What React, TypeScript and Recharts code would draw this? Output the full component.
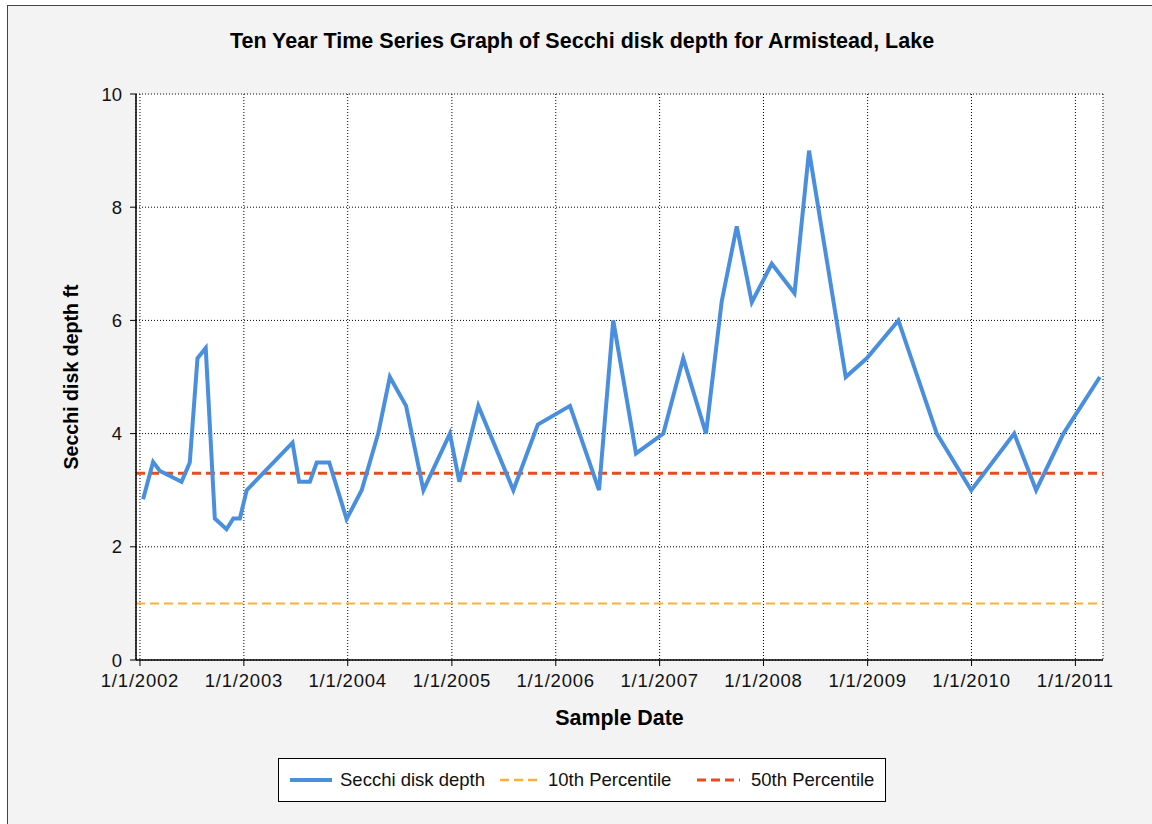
import React from 'react';
import { LineChart, Line, XAxis, YAxis, CartesianGrid, ReferenceLine, ReferenceArea } from 'recharts';

const sampleDates = [
  '2002-01-12', '2002-02-16', '2002-03-12', '2002-05-27', '2002-06-25', '2002-07-22', '2002-08-20',
  '2002-09-21', '2002-11-01', '2002-11-25', '2002-12-18', '2003-01-11', '2003-06-21', '2003-07-14',
  '2003-08-21', '2003-09-14', '2003-10-28', '2003-12-28', '2004-02-19', '2004-04-17', '2004-05-28',
  '2004-07-24', '2004-09-23', '2004-12-25', '2005-01-27', '2005-04-04', '2005-08-05', '2005-10-30',
  '2006-02-20', '2006-06-02', '2006-07-22', '2006-10-10', '2007-01-14', '2007-03-25', '2007-06-13',
  '2007-08-07', '2007-09-29', '2007-11-21', '2008-01-30', '2008-04-19', '2008-06-09', '2008-10-16',
  '2008-12-29', '2009-04-19', '2009-09-01', '2009-12-31', '2010-05-31', '2010-08-16', '2010-11-20',
  '2011-03-28',
];

const secchiDepth = [
  2.84, 3.5, 3.34, 3.15, 3.49, 5.33, 5.51,
  2.5, 2.31, 2.5, 2.5, 3.0, 3.84, 3.15,
  3.15, 3.49, 3.49, 2.49, 3.0, 4.0, 5.0,
  4.49, 3.0, 4.0, 3.15, 4.49, 3.0, 4.16,
  4.49, 3.0, 6.0, 3.65, 4.0, 5.33, 4.0,
  6.33, 7.66, 6.32, 7.0, 6.48, 9.0, 5.0,
  5.33, 6.0, 4.0, 3.0, 4.0, 3.0, 4.0,
  5.0,
];

const yTicks = [0, 2, 4, 6, 8, 10];
const yearTickDates = [
  '2002-01-01', '2003-01-01', '2004-01-01', '2005-01-01', '2006-01-01',
  '2007-01-01', '2008-01-01', '2009-01-01', '2010-01-01', '2011-01-01',
];
const xDomainDates = ['2001-12-18', '2011-04-08'];

const percentile10 = 1.0;
const percentile50 = 3.3;

const titleText = 'Ten Year Time Series Graph of Secchi disk depth for Armistead, Lake';
const xLabelText = 'Sample Date';
const yLabelText = 'Secchi disk depth ft';
const legendNames = ['Secchi disk depth', '10th Percentile', '50th Percentile'];

const BLUE = '#4a8fde';
const ORANGE = '#fbb03b';
const RED = '#e84b1c';
const FONT = '"Liberation Sans", Arial, sans-serif';

const data = sampleDates.map((d, i) => ({ t: Date.parse(d), depth: secchiDepth[i] }));
const xTicks = yearTickDates.map((d) => Date.parse(d));
const xDomain = xDomainDates.map((d) => Date.parse(d));

const fmtDate = (v: number) => {
  const d = new Date(v);
  return `${d.getUTCMonth() + 1}/${d.getUTCDate()}/${d.getUTCFullYear()}`;
};

const XLabel = (props: any) => {
  const vb = props.viewBox || {};
  return (
    <text x={vb.x + vb.width / 2} y={vb.y + 65} textAnchor="middle" fontFamily={FONT} fontSize={21.4} fontWeight="bold" fill="#000">
      {xLabelText}
    </text>
  );
};

const YLabel = (props: any) => {
  const vb = props.viewBox || {};
  const cx = vb.x - 5;
  const cy = vb.y + vb.height / 2;
  return (
    <text x={cx} y={cy} transform={`rotate(-90, ${cx}, ${cy})`} textAnchor="middle" dominantBaseline="central" fontFamily={FONT} fontSize={19.6} fontWeight="bold" fill="#000">
      {yLabelText}
    </text>
  );
};

const LegendSample = ({ color, dash, width, w }: { color: string; dash?: string; width: number; w: number }) => (
  <svg width={w} height={10} style={{ display: 'block' }}>
    <line x1={0} y1={5} x2={w} y2={5} stroke={color} strokeWidth={width} strokeDasharray={dash} />
  </svg>
);

const itemStyle = (left: number): React.CSSProperties => ({
  position: 'absolute',
  left,
  top: 0,
  height: 42,
  display: 'flex',
  alignItems: 'center',
});

export default function App() {
  return (
    <div
      style={{
        position: 'absolute',
        left: 7,
        top: 5,
        width: 1160,
        height: 830,
        border: '1px solid #444',
        background: '#f3f3f3',
        boxSizing: 'border-box',
        fontFamily: FONT,
      }}
    >
      <div
        style={{
          position: 'absolute',
          left: 0,
          top: 22,
          width: 1148,
          textAlign: 'center',
          fontSize: 21.5,
          fontWeight: 'bold',
          color: '#000',
          lineHeight: '26px',
        }}
      >
        {titleText}
      </div>
      <div style={{ position: 'absolute', left: 0, top: 0 }}>
        <LineChart width={1150} height={818} data={data} margin={{ top: 88, right: 55, bottom: 134, left: 68 }}>
          <CartesianGrid fill="#ffffff" stroke="#000" strokeDasharray="1 2" />
          <XAxis
            dataKey="t"
            type="number"
            scale="time"
            domain={xDomain}
            ticks={xTicks}
            tickFormatter={fmtDate}
            allowDataOverflow
            height={30}
            tickSize={6}
            tickMargin={8}
            tick={{ fontFamily: FONT, fontSize: 18.5, fill: '#111', letterSpacing: 0.8 }}
            axisLine={{ stroke: '#000', strokeWidth: 1.5 }}
            tickLine={{ stroke: '#000' }}
            label={<XLabel />}
          />
          <YAxis
            type="number"
            domain={[0, 10]}
            ticks={yTicks}
            width={60}
            tickSize={6}
            tickMargin={8}
            tick={{ fontFamily: FONT, fontSize: 18.5, fill: '#111' }}
            axisLine={{ stroke: '#000', strokeWidth: 1.5 }}
            tickLine={{ stroke: '#000' }}
            label={<YLabel />}
          />
          <ReferenceArea fill="none" fillOpacity={0} stroke="#333" strokeWidth={1} />
          <ReferenceLine y={percentile10} stroke={ORANGE} strokeWidth={2} strokeDasharray="9 5" />
          <ReferenceLine y={percentile50} stroke={RED} strokeWidth={3} strokeDasharray="9 5" />
          <Line
            type="linear"
            dataKey="depth"
            stroke={BLUE}
            strokeWidth={4}
            dot={false}
            activeDot={false}
            isAnimationActive={false}
          />
        </LineChart>
      </div>
      <div
        style={{
          position: 'absolute',
          left: 270,
          top: 752,
          width: 608,
          height: 44,
          border: '1px solid #000',
          background: '#fff',
          boxSizing: 'border-box',
          fontSize: 18.5,
          color: '#111',
        }}
      >
        <div style={itemStyle(11)}>
          <LegendSample color={BLUE} width={4} w={42} />
        </div>
        <div style={itemStyle(61)}>{legendNames[0]}</div>
        <div style={itemStyle(221)}>
          <LegendSample color={ORANGE} width={2.5} dash="9 5" w={40} />
        </div>
        <div style={itemStyle(269)}>{legendNames[1]}</div>
        <div style={itemStyle(418)}>
          <LegendSample color={RED} width={3} dash="9 5" w={43} />
        </div>
        <div style={itemStyle(472)}>{legendNames[2]}</div>
      </div>
    </div>
  );
}
